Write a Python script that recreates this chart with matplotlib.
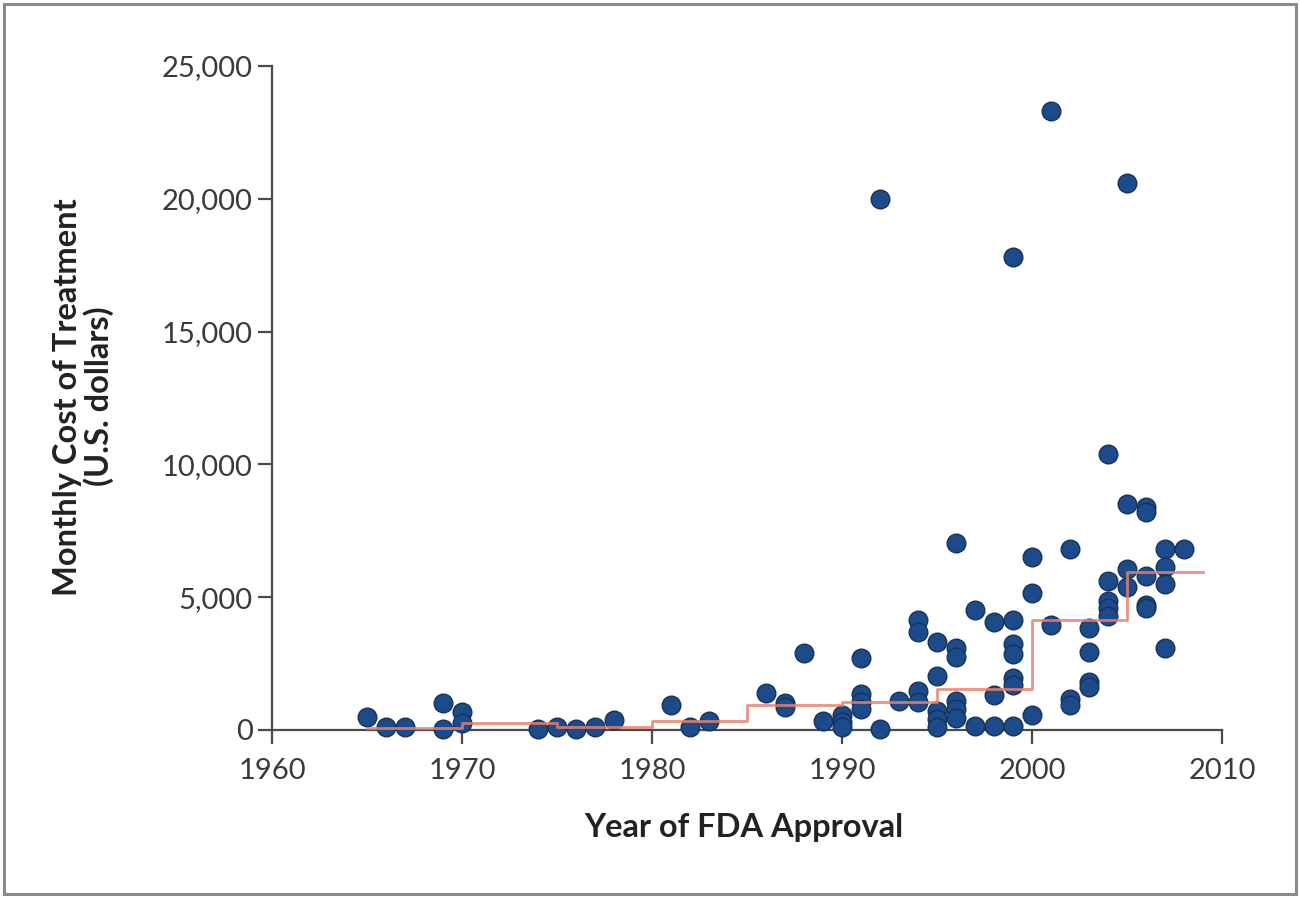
import matplotlib.pyplot as plt
from matplotlib.patches import Rectangle

# approvals grouped by year of FDA approval -> monthly cost (USD)
cost_by_year = {
    1965: [500],
    1966: [100],
    1967: [100],
    1969: [1000, 50],
    1970: [680, 250],
    1974: [20],
    1975: [100],
    1976: [20],
    1977: [100],
    1978: [380],
    1981: [950],
    1982: [100],
    1983: [350],
    1986: [1400],
    1987: [1000, 850],
    1988: [2900],
    1989: [350],
    1990: [550, 300, 100],
    1991: [2700, 1350, 1050, 800],
    1992: [20000, 50],
    1993: [1100],
    1994: [4150, 3700, 1450, 1050],
    1995: [3300, 2050, 700, 400, 100],
    1996: [7050, 3100, 2750, 1100, 800, 450],
    1997: [4500, 150],
    1998: [4050, 1300, 150],
    1999: [17800, 4150, 3250, 2850, 1950, 1700, 150],
    2000: [6500, 5150, 550],
    2001: [23300, 3950],
    2002: [6800, 1150, 950],
    2003: [3850, 2950, 1800, 1600],
    2004: [10400, 5600, 4850, 4600, 4300],
    2005: [20600, 8500, 6050, 5400],
    2006: [8400, 8200, 5800, 4700, 4600],
    2007: [6800, 6150, 5500, 3100],
    2008: [6800],
}

# step line (per five-year period)
step_years = [1965, 1970, 1975, 1980, 1985, 1990, 1995, 2000, 2005, 2009]
step_costs = [60, 270, 100, 350, 950, 1050, 1550, 4150, 5950, 5950]

x_ticks = [1960, 1970, 1980, 1990, 2000, 2010]
y_ticks = [0, 5000, 10000, 15000, 20000, 25000]
y_tick_labels = ["0", "5,000", "10,000", "15,000", "20,000", "25,000"]

plt.rcParams['font.family'] = ['Lato', 'DejaVu Sans']

xs, ys = [], []
for yr, vals in cost_by_year.items():
    for v in vals:
        xs.append(yr)
        ys.append(v)

fig = plt.figure(figsize=(13, 8.98), dpi=100)
ax = fig.add_axes([0.2092, 0.1871, 0.7308, 0.7394])

ax.scatter(xs, ys, s=180, color='#1d4b8a', edgecolor='#15335c', linewidth=1.0, zorder=3, clip_on=False)
ax.step(step_years, step_costs, where='post', color='#e8806a', linewidth=2, alpha=0.85, zorder=4)

ax.set_xlim(1960, 2010)
ax.set_ylim(0, 25000)
ax.set_xticks(x_ticks)
ax.set_yticks(y_ticks)
ax.set_yticklabels(y_tick_labels)

for side in ['top', 'right']:
    ax.spines[side].set_visible(False)
for side in ['left', 'bottom']:
    ax.spines[side].set_color('#4a4a4a')
    ax.spines[side].set_linewidth(1.6)

ax.tick_params(axis='both', direction='out', length=10, width=1.6, color='#4a4a4a',
               labelsize=21, labelcolor='#3a3a3a', pad=4)
ax.tick_params(axis='x', pad=10)

ax.set_xlabel("Year of FDA Approval", fontsize=23.5, fontweight='bold', color='#222222')
ax.set_ylabel("Monthly Cost of Treatment\n(U.S. dollars)", fontsize=23.5, fontweight='bold',
              color='#222222', linespacing=1.05)
ax.xaxis.label.set_va('center')
ax.yaxis.label.set_va('center')
ax.xaxis.set_label_coords(0.497, -0.147)
ax.yaxis.set_label_coords(-0.198, 0.502)

# outer frame of the figure panel
fig.patches.append(Rectangle((0.003, 0.004), 0.994, 0.992, transform=fig.transFigure,
                             fill=False, edgecolor='#8a8a8a', linewidth=2.2))

plt.savefig("out.png", dpi=100)
